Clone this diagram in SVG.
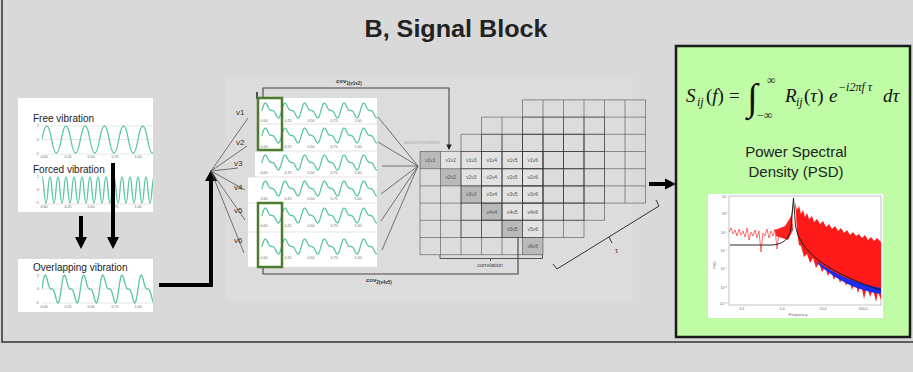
<svg xmlns="http://www.w3.org/2000/svg" xmlns:xlink="http://www.w3.org/1999/xlink" width="913" height="372" viewBox="0 0 913 372">
<defs>
<style>
.t{font-family:"Liberation Sans",Arial,sans-serif;fill:#222}
.lbl{font-family:"Liberation Sans",Arial,sans-serif;font-size:10px;fill:#222}
.tick{font-family:"Liberation Sans",Arial,sans-serif;font-size:3.6px;fill:#666;text-anchor:middle}
.yt{font-family:"Liberation Sans",Arial,sans-serif;font-size:3.6px;fill:#666;text-anchor:end}
.wave{fill:none;stroke:#5cc6a4;stroke-width:1.3;stroke-linejoin:round;stroke-linecap:round}
.vl{font-family:"Liberation Sans",Arial,sans-serif;font-size:8px;fill:#333}
.cell{font-family:"Liberation Sans",Arial,sans-serif;font-size:5px;fill:#555;text-anchor:middle}
.conn{fill:none;stroke:#444;stroke-width:1.1}
.fan{fill:none;stroke:#555;stroke-width:0.8}
.grid{fill:none;stroke:#333;stroke-opacity:0.55;stroke-width:0.9}
.gbox{fill:none;stroke:#4d7c2d;stroke-width:2.5}
.thick{fill:none;stroke:#000;stroke-width:4}
.m{font-family:"Liberation Serif","Times New Roman",serif;font-style:italic;font-size:19px;fill:#111}
.mn{font-family:"Liberation Serif","Times New Roman",serif;font-size:19px;fill:#111}
.ms{font-family:"Liberation Serif","Times New Roman",serif;font-style:italic;font-size:12px;fill:#111}
.cov{font-family:"Liberation Sans",Arial,sans-serif;font-size:6px;font-weight:bold;fill:#333}
.small{font-family:"Liberation Sans",Arial,sans-serif;font-size:5.5px;fill:#444;text-anchor:middle}
.axis{stroke:#ccc;stroke-width:0.5;fill:none}
</style>
<path id="ov" vector-effect="non-scaling-stroke" d="M0 0l1-3.92 1-3.26 1-2.11 1-.71 1 .64 1 1.66 1 2.19 1 2.18 1 1.74 1 1.07 1 .45 1 .07 1 .07 1 .45 1 1.07 1 1.74 1 2.18 1 2.19 1 1.66 1 .64 1-.71 1-2.11 1-3.26 1-3.92l1-3.92 1-3.26 1-2.11 1-.71 1 .64 1 1.66 1 2.19 1 2.18 1 1.74 1 1.07 1 .45 1 .07 1 .07 1 .45 1 1.07 1 1.74 1 2.18 1 2.19 1 1.66 1 .64 1-.71 1-2.11 1-3.26 1-3.92l1-3.92 1-3.26 1-2.11 1-.71 1 .64 1 1.66 1 2.19 1 2.18 1 1.74 1 1.07 1 .45 1 .07 1 .07 1 .45 1 1.07 1 1.74 1 2.18 1 2.19 1 1.66 1 .64 1-.71 1-2.11 1-3.26 1-3.92l1-3.92 1-3.26 1-2.11 1-.71 1 .64 1 1.66 1 2.19 1 2.18 1 1.74 1 1.07 1 .45 1 .07 1 .07 1 .45 1 1.07 1 1.74 1 2.18 1 2.19 1 1.66 1 .64 1-.71 1-2.11 1-3.26 1-3.92l1-3.92 1-3.26 1-2.11 1-.71 1 .64 1 1.66 1 2.19 1 2.18 1 1.74 1 1.07 1 .45 1 .07 1 .07 1 .45 1 1.07 1 1.74 1 2.18 1 2.19 1 1.66 1 .64 1-.71 1-2.11 1-3.26 1-3.92l1-3.92 1-3.26 1-2.11 1-.71 1 .64 1 1.66 1 2.19 1 2.18 1 1.74 1 1.07 1 .45 1 .07 1 .07 1 .45 1 1.07 1 1.74 1 2.18 1 2.19 1 1.66 1 .64 1-.71 1-2.11 1-3.26 1-3.92"/>
<path id="g6" d="M0 0H123M0 17.2H123M0 34.4H123M0 51.6H123M0 68.8H123M0 86H123M0 103.2H123M0 0V103.2M20.5 0V103.2M41 0V103.2M61.5 0V103.2M82 0V103.2M102.5 0V103.2M123 0V103.2"/>
<clipPath id="cl"><rect x="42" y="98" width="111" height="215"/></clipPath>
<clipPath id="cs"><rect x="248" y="95" width="129" height="175"/></clipPath>
<marker id="ah" viewBox="0 0 6 6" refX="5" refY="3" markerWidth="5" markerHeight="5" orient="auto"><path d="M0 0L6 3L0 6z" fill="#222"/></marker>
</defs>

<rect width="913" height="372" fill="#d9d9d9"/>
<rect x="226" y="76" width="407" height="226" fill="#dcdcdc"/>
<path d="M2 0V342H913" stroke="#333" stroke-width="1.5" fill="none"/>

<text x="456" y="37" text-anchor="middle" class="t" font-weight="bold" font-size="23" textLength="183" lengthAdjust="spacingAndGlyphs">B, Signal Block</text>

<g id="free-forced">
<rect x="18" y="98" width="135" height="114" fill="#fff"/>
<text x="33" y="122" class="lbl">Free vibration</text>
<path class="axis" d="M42 154H153M42 126H153M42 139.5H153"/>
<g clip-path="url(#cl)">
<path class="wave" d="M42 139.5q4.8-27 9.6 0t9.6 0t9.6 0t9.6 0t9.6 0t9.6 0t9.6 0t9.6 0t9.6 0t9.6 0t9.6 0t9.6 0"/>
</g>
<text x="39" y="127" class="yt">2</text><text x="39" y="141" class="yt">0</text><text x="39" y="155" class="yt">−2</text>
<text x="44" y="158" class="tick">0.00</text><text x="68" y="158" class="tick">0.25</text><text x="91" y="158" class="tick">0.50</text><text x="115" y="158" class="tick">0.75</text><text x="138" y="158" class="tick">1.00</text>
<text x="33" y="173" class="lbl">Forced vibration</text>
<path class="axis" d="M42 204H153M42 190H153"/>
<g clip-path="url(#cl)">
<path class="wave" d="M40 190q2-26 4 0t4 0t4 0t4 0t4 0t4 0t4 0t4 0t4 0t4 0t4 0t4 0t4 0t4 0t4 0t4 0t4 0t4 0t4 0t4 0t4 0t4 0t4 0t4 0t4 0t4 0t4 0t4 0t4 0"/>
</g>
<text x="39" y="178" class="yt">1</text><text x="39" y="191" class="yt">0</text><text x="39" y="204" class="yt">−1</text>
<text x="44" y="208" class="tick">0.00</text><text x="68" y="208" class="tick">0.25</text><text x="91" y="208" class="tick">0.50</text><text x="115" y="208" class="tick">0.75</text><text x="138" y="208" class="tick">1.00</text>
</g>

<g id="overlap">
<rect x="18" y="259" width="135" height="53" fill="#fff"/>
<text x="33" y="271" class="lbl">Overlapping vibration</text>
<path class="axis" d="M42 303H153M42 289H153"/>
<g clip-path="url(#cl)">
<use href="#ov" class="wave" transform="translate(42,289) scale(0.8,1.4)"/>
</g>
<text x="39" y="277" class="yt">2</text><text x="39" y="290" class="yt">0</text><text x="39" y="304" class="yt">−2</text>
<text x="44" y="308" class="tick">0.00</text><text x="68" y="308" class="tick">0.25</text><text x="91" y="308" class="tick">0.50</text><text x="115" y="308" class="tick">0.75</text><text x="138" y="308" class="tick">1.00</text>
</g>

<g id="connectors">
<path d="M81 216V238M113 163V238" stroke="#000" stroke-width="4" fill="none"/>
<path d="M75 237H87L81 249ZM107 237H119L113 249Z" fill="#000"/>
<path class="thick" d="M159 285H211V180"/>
<path d="M205 181H217L211 170Z" fill="#000"/>
<path class="fan" d="M211 171L248 118M211 171L247 146M211 171L238 168M211 171L245 190M211 171L245 220M211 171L244 253"/>
<path class="fan" d="M378 117L418 166M378 142L418 166M382 166L418 166M381 194L418 166M381 221L418 166M382 250L418 166"/>
<path class="conn" d="M263 98V88H449V149" marker-end="url(#ah)"/>
<path class="conn" d="M263 267V274H518V222" marker-end="url(#ah)"/>
<path d="M257 92V99" stroke="#222" stroke-width="1.5"/>
<path d="M440 255V258.5H490.5V261M490.5 258.5H542.5V255" fill="none" stroke="#444" stroke-width="0.9"/>
<path d="M553 264L557 269L659 206L656 200M609 237L612 243" fill="none" stroke="#333" stroke-width="1"/>
<path d="M649 184H666" stroke="#000" stroke-width="4"/>
<path d="M665 178.5L676 184L665 189.5Z" fill="#000"/>
</g>
<text x="336" y="83" class="cov">cov<tspan font-size="4.5" dy="2">1(v1v2)</tspan></text>
<text x="366" y="282" class="cov">cov<tspan font-size="4.5" dy="2">2(v4v5)</tspan></text>
<text x="490" y="267" class="small">correlation</text>
<text x="615" y="253" font-family="Liberation Serif,serif" font-size="8" fill="#333">τ</text>
<text x="422" y="144" class="small" fill="#b0b0b0" style="fill:#b0b0b0">autocorrelation</text>

<g id="signal-stack">
<rect x="258" y="98" width="119" height="53" fill="#fff"/>
<rect x="255" y="151" width="122" height="26" fill="#fff"/>
<rect x="248" y="177" width="129" height="90" fill="#fff"/>
<path d="M258 124H377M255 151H377M248 177H377M248 203H377M248 232H377" stroke="#d0d0d0" stroke-width="0.6"/>
<g clip-path="url(#cs)">
<use href="#ov" class="wave" transform="translate(262,110.5) scale(0.82,0.75)"/>
<use href="#ov" class="wave" transform="translate(262,135.5) scale(0.82,0.75)"/>
<use href="#ov" class="wave" transform="translate(262,162.5) scale(0.82,0.75)"/>
<use href="#ov" class="wave" transform="translate(262,188.5) scale(0.82,0.75)"/>
<use href="#ov" class="wave" transform="translate(262,215.5) scale(0.82,0.75)"/>
<use href="#ov" class="wave" transform="translate(262,246.5) scale(0.82,0.75)"/>
</g>
<g class="tick">
<text x="264" y="122">0.00</text><text x="288" y="122">0.25</text><text x="311" y="122">0.50</text><text x="334" y="122">0.75</text><text x="358" y="122">1.00</text>
<text x="264" y="148">0.00</text><text x="288" y="148">0.25</text><text x="311" y="148">0.50</text><text x="334" y="148">0.75</text><text x="358" y="148">1.00</text>
<text x="264" y="174">0.00</text><text x="288" y="174">0.25</text><text x="311" y="174">0.50</text><text x="334" y="174">0.75</text><text x="358" y="174">1.00</text>
<text x="264" y="200">0.00</text><text x="288" y="200">0.25</text><text x="311" y="200">0.50</text><text x="334" y="200">0.75</text><text x="358" y="200">1.00</text>
<text x="264" y="227">0.00</text><text x="288" y="227">0.25</text><text x="311" y="227">0.50</text><text x="334" y="227">0.75</text><text x="358" y="227">1.00</text>
<text x="264" y="259">0.00</text><text x="288" y="259">0.25</text><text x="311" y="259">0.50</text><text x="334" y="259">0.75</text><text x="358" y="259">1.00</text>
</g>
<rect class="gbox" x="258" y="98" width="24" height="52"/>
<rect class="gbox" x="258" y="203" width="24" height="64"/>
<text x="236" y="115" class="vl">v1</text>
<text x="236" y="145" class="vl">v2</text>
<text x="234" y="166" class="vl">v3</text>
<text x="234" y="190" class="vl">v4</text>
<text x="234" y="213" class="vl">v5</text>
<text x="234" y="243" class="vl">v6</text>
</g>

<g id="matrix">
<g fill="#e2e2e2">
<rect x="440.5" y="151.5" width="102.5" height="17.2"/>
<rect x="461" y="168.7" width="82" height="17.2"/>
<rect x="481.5" y="185.9" width="61.5" height="17.2"/>
<rect x="502" y="203.1" width="41" height="17.2"/>
<rect x="522.5" y="220.3" width="20.5" height="17.2"/>
</g>
<g fill="#b9b9b9">
<rect x="420" y="151.5" width="20.5" height="17.2"/>
<rect x="440.5" y="168.7" width="20.5" height="17.2"/>
<rect x="461" y="185.9" width="20.5" height="17.2"/>
<rect x="481.5" y="203.1" width="20.5" height="17.2"/>
<rect x="502" y="220.3" width="20.5" height="17.2"/>
<rect x="522.5" y="237.5" width="20.5" height="17.2"/>
</g>
<use href="#g6" class="grid" transform="translate(522.5,99.9)"/>
<use href="#g6" class="grid" transform="translate(481.5,117.1)"/>
<use href="#g6" class="grid" transform="translate(461,134.3)"/>
<use href="#g6" class="grid" transform="translate(420,151.5)"/>
<g class="cell">
<text x="430.25" y="161.9">v1v1</text><text x="450.75" y="161.9">v1v2</text><text x="471.25" y="161.9">v1v3</text><text x="491.75" y="161.9">v1v4</text><text x="512.25" y="161.9">v1v5</text><text x="532.75" y="161.9">v1v6</text>
<text x="450.75" y="179.1">v2v2</text><text x="471.25" y="179.1">v2v3</text><text x="491.75" y="179.1">v2v4</text><text x="512.25" y="179.1">v2v5</text><text x="532.75" y="179.1">v2v6</text>
<text x="471.25" y="196.3">v3v3</text><text x="491.75" y="196.3">v3v4</text><text x="512.25" y="196.3">v3v5</text><text x="532.75" y="196.3">v3v6</text>
<text x="491.75" y="213.5">v4v4</text><text x="512.25" y="213.5">v4v5</text><text x="532.75" y="213.5">v4v6</text>
<text x="512.25" y="230.7">v5v5</text><text x="532.75" y="230.7">v5v6</text>
<text x="532.75" y="247.9">v6v6</text>
</g>
</g>

<g id="psd-box">
<rect x="676" y="46" width="234" height="291" fill="#c0fba5" stroke="#1a1a1a" stroke-width="2.5"/>
<text x="686" y="102" class="m">S</text>
<text x="697" y="106" class="ms">ij</text>
<text x="706" y="102" class="mn">(<tspan class="m">f</tspan>)</text>
<text x="729" y="102" class="mn">=</text>
<text x="747" y="110" font-family="Liberation Serif,serif" font-size="38" fill="#111">∫</text>
<text x="767" y="84" font-family="Liberation Serif,serif" font-size="12" fill="#111">∞</text>
<text x="757" y="119" font-family="Liberation Serif,serif" font-size="12" fill="#111">−∞</text>
<text x="785" y="102" class="m">R</text>
<text x="796" y="106" class="ms">ij</text>
<text x="804" y="102" class="mn">(<tspan class="m">τ</tspan>)</text>
<text x="829" y="102" class="m">e</text>
<text x="838" y="91" class="ms">−i2πf τ</text>
<text x="883" y="102" class="m">dτ</text>
<text x="796" y="157" class="t" font-size="15" text-anchor="middle">Power Spectral</text>
<text x="796" y="177" class="t" font-size="15" text-anchor="middle">Density (PSD)</text>
<rect x="708" y="194" width="175" height="124" fill="#fff"/>
<rect x="729" y="196" width="152" height="109" fill="none" stroke="#999" stroke-width="0.6"/>
<polyline fill="none" stroke="#ff3030" stroke-width="0.7" points="729,232 731,228 733,234 735,230 737,236 739,229 741,235 743,231 745,237 747,228 749,240 751,232 753,236 755,230 757,238 759,231 761,252 763,233 765,236 767,229 769,238 771,231 773,236 775,229 777,249 779,232 781,235 783,228 785,234 787,225 789,230 791,220 793,205"/>
<path d="M775 230L780 228L785 226L790 218L792 214L793 230L788 240L782 238L776 236Z" fill="#ff2020"/>
<polygon fill="#ff1a1a" points="795,202 797,210 799,206 801,214 803,210 805,217 807,213 809,219 812,216 814,222 817,219 820,224 823,221 826,227 829,224 832,229 835,226 838,231 841,228 844,233 847,230 850,235 853,232 856,236 859,234 862,238 865,235 868,240 871,237 874,241 877,238 881,242 881,300 878,292 876,302 873,289 870,297 867,286 864,299 861,284 858,293 855,281 852,290 849,279 846,286 843,276 840,283 837,273 834,280 831,270 828,276 825,267 822,272 819,263 816,268 813,258 810,263 807,254 804,257 801,246 799,245 797,232 796,215"/>
<path d="M818 262C836 275 858 284 881 288V294C858 291 836 280 818 264Z" fill="#1a2ee8"/>
<path d="M730 245H772C784 244 789 239 791 228L793.5 198L795.5 226C798 240 806 250 818 260C836 273 858 283 881 290" fill="none" stroke="#111" stroke-width="0.9"/>
<g class="yt">
<text x="727" y="198">10²</text><text x="727" y="215">10⁰</text><text x="727" y="234">10⁻²</text><text x="727" y="252">10⁻⁴</text><text x="727" y="270">10⁻⁶</text><text x="727" y="289">10⁻⁸</text><text x="727" y="305">10⁻¹⁰</text>
</g>
<g class="tick">
<text x="742" y="310">0.1</text><text x="782" y="310">1.0</text><text x="823" y="310">10.0</text><text x="863" y="310">100.0</text>
<text x="798" y="316" font-size="4">Frequency</text>
</g>
<text class="tick" transform="translate(716,265) rotate(-90)">PSD</text>
</g>
</svg>
